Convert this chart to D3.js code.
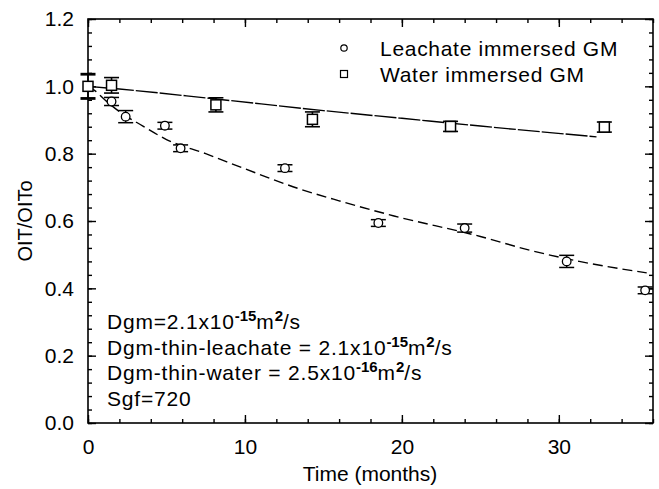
<!DOCTYPE html>
<html>
<head>
<meta charset="utf-8">
<script src="https://cdn.jsdelivr.net/npm/d3@7/dist/d3.min.js"></script>
<style>
  html, body { margin: 0; padding: 0; background: #fff; }
  svg { display: block; }
  text { font-family: "Liberation Sans", Arial, Helvetica, sans-serif; fill: #000; }
</style>
</head>
<body>
<svg id="chart" width="659" height="489"></svg>
<script>
// Measured OIT retention (OIT/OITo) versus immersion time
const leachateTime = [0, 1.5, 2.4, 4.9, 5.9, 12.55, 18.5, 24.0, 30.5, 35.5];
const leachateOIT  = [1.0, 0.955, 0.91, 0.883, 0.816, 0.757, 0.594, 0.579, 0.48, 0.394];
const leachateErr  = [0, 0.012, 0.018, 0.01, 0.01, 0.01, 0.01, 0.012, 0.018, 0.01];

const waterTime = [0, 1.5, 8.15, 14.3, 23.1, 32.9];
const waterOIT  = [1.0, 1.003, 0.945, 0.902, 0.881, 0.879];
const waterErr  = [0.036, 0.023, 0.021, 0.022, 0.015, 0.015];

// Model predictions
const leachateFitTime = [0, 0.5, 1, 2, 3.5, 5, 7.5, 10, 13.5, 16, 19.5, 25, 28, 31.3, 35.6];
const leachateFit     = [1.0, 0.985, 0.963, 0.925, 0.882, 0.842, 0.80, 0.755, 0.695, 0.66, 0.615, 0.554, 0.515, 0.48, 0.446];
const waterFitTime = [0, 2, 8, 15, 20, 25, 32.4];
const waterFit     = [1.0, 0.992, 0.963, 0.928, 0.905, 0.882, 0.85];

const xTickLabels = [0, 10, 20, 30];
const yTickLabels = [0.0, 0.2, 0.4, 0.6, 0.8, 1.0, 1.2];

const legendLabels = ["Leachate immersed GM", "Water immersed GM"];
const notes = [
  [["Dgm=2.1x10", false], ["-15", true], ["m", false], ["2", true], ["/s", false]],
  [["Dgm-thin-leachate = 2.1x10", false], ["-15", true], ["m", false], ["2", true], ["/s", false]],
  [["Dgm-thin-water = 2.5x10", false], ["-16", true], ["m", false], ["2", true], ["/s", false]],
  [["Sgf=720", false]]
];

const svg = d3.select("#chart");
const L = 88, R = 653, T = 19, B = 423;

const x = d3.scaleLinear().domain([0, 36]).range([L, R]);
const y = d3.scaleLinear().domain([0, 1.2]).range([B, T]);

const g = svg.append("g");

// Frame with inward ticks on all four sides
function tickAxis(axisGen, tx, ty) {
  const a = g.append("g").attr("transform", `translate(${tx},${ty})`).call(axisGen);
  a.select(".domain").remove();
  a.selectAll("line").attr("stroke", "#000").attr("stroke-width", 1.4);
  return a;
}
const xMinor = d3.range(0, 36.01, 2);
const yMinor = d3.range(0, 1.2001, 0.04);
const xMajor = xTickLabels;
const yMajor = yTickLabels;

tickAxis(d3.axisTop(x).tickValues(xMinor).tickSize(4).tickFormat(""), 0, B);
tickAxis(d3.axisTop(x).tickValues(xMajor).tickSize(8).tickFormat(""), 0, B);
tickAxis(d3.axisBottom(x).tickValues(xMinor).tickSize(4).tickFormat(""), 0, T);
tickAxis(d3.axisBottom(x).tickValues(xMajor).tickSize(8).tickFormat(""), 0, T);
tickAxis(d3.axisRight(y).tickValues(yMinor).tickSize(4).tickFormat(""), L, 0);
tickAxis(d3.axisRight(y).tickValues(yMajor).tickSize(8).tickFormat(""), L, 0);
tickAxis(d3.axisLeft(y).tickValues(yMinor).tickSize(4).tickFormat(""), R, 0);
tickAxis(d3.axisLeft(y).tickValues(yMajor).tickSize(8).tickFormat(""), R, 0);

g.append("rect")
  .attr("x", L).attr("y", T).attr("width", R - L).attr("height", B - T)
  .attr("fill", "none").attr("stroke", "#000").attr("stroke-width", 1.6);

// Tick labels
const xl = g.append("g").attr("transform", `translate(0,${B})`)
  .call(d3.axisBottom(x).tickValues(xTickLabels).tickSize(0).tickPadding(16).tickFormat(d3.format("d")));
xl.select(".domain").remove();
xl.selectAll("text").style("font-size", "21px").style("font-family", null);

const yl = g.append("g").attr("transform", `translate(${L},0)`)
  .call(d3.axisLeft(y).tickValues(yTickLabels).tickSize(0).tickPadding(14).tickFormat(d3.format(".1f")));
yl.select(".domain").remove();
yl.selectAll("text").style("font-size", "21px").style("font-family", null);

// Axis titles
svg.append("text")
  .attr("x", 370).attr("y", 481)
  .attr("text-anchor", "middle").style("font-size", "21px")
  .text("Time (months)");
svg.append("text")
  .attr("transform", `translate(32,${(T + B) / 2}) rotate(-90)`)
  .attr("text-anchor", "middle").style("font-size", "20px")
  .text("OIT/OITo");

// Fitted curves
const line = d3.line().x(d => x(d[0])).y(d => y(d[1])).curve(d3.curveMonotoneX);
g.append("path")
  .datum(waterFitTime.map((t, i) => [t, waterFit[i]]))
  .attr("d", line).attr("fill", "none").attr("stroke", "#000")
  .attr("stroke-width", 1.4).attr("stroke-dasharray", "22,2");
g.append("path")
  .datum(leachateFitTime.map((t, i) => [t, leachateFit[i]]))
  .attr("d", line).attr("fill", "none").attr("stroke", "#000")
  .attr("stroke-width", 1.4).attr("stroke-dasharray", "10,5");

// Error bars
function errorBars(times, vals, errs, capW, width) {
  const eb = g.append("g").attr("stroke", "#000").attr("stroke-width", width);
  times.forEach((t, i) => {
    if (!errs[i]) return;
    const cx = x(t), y1 = y(vals[i] + errs[i]), y2 = y(vals[i] - errs[i]);
    const capWidth = i === 0 ? width + 1.2 : width;
    eb.append("line").attr("x1", cx).attr("x2", cx).attr("y1", y1).attr("y2", y2);
    eb.append("line").attr("x1", cx - capW / 2).attr("x2", cx + capW / 2).attr("y1", y1).attr("y2", y1).attr("stroke-width", capWidth);
    eb.append("line").attr("x1", cx - capW / 2).attr("x2", cx + capW / 2).attr("y1", y2).attr("y2", y2).attr("stroke-width", capWidth);
  });
}
errorBars(leachateTime, leachateOIT, leachateErr, 15, 1.5);
errorBars(waterTime, waterOIT, waterErr, 15, 1.6);

// Markers
g.append("g").selectAll("circle")
  .data(leachateTime.map((t, i) => [t, leachateOIT[i]]))
  .join("circle")
  .attr("cx", d => x(d[0])).attr("cy", d => y(d[1])).attr("r", 4.3)
  .attr("fill", "#fff").attr("stroke", "#000").attr("stroke-width", 1.3);

const sq = 10;
g.append("g").selectAll("rect")
  .data(waterTime.map((t, i) => [t, waterOIT[i]]))
  .join("rect")
  .attr("x", d => x(d[0]) - sq / 2).attr("y", d => y(d[1]) - sq / 2)
  .attr("width", sq).attr("height", sq)
  .attr("fill", "#fff").attr("stroke", "#000").attr("stroke-width", 1.5);

// Legend
const leg = svg.append("g");
leg.append("circle").attr("cx", 344).attr("cy", 48).attr("r", 3.2)
  .attr("fill", "#fff").attr("stroke", "#000").attr("stroke-width", 1.2);
leg.append("rect").attr("x", 340.5).attr("y", 70.5).attr("width", 7).attr("height", 7)
  .attr("fill", "#fff").attr("stroke", "#000").attr("stroke-width", 1.2);
leg.selectAll("text").data(legendLabels).join("text")
  .attr("x", 380).attr("y", (d, i) => 56 + i * 26)
  .style("font-size", "21px").style("letter-spacing", "0.7px")
  .text(d => d);

// Model parameters
const ann = svg.append("g");
notes.forEach((parts, i) => {
  const t = ann.append("text").attr("x", 107).attr("y", 329 + i * 25.5)
    .style("font-size", "21px").style("letter-spacing", "0.8px");
  parts.forEach(([s, sup], j) => {
    const prevSup = j > 0 && parts[j - 1][1];
    const tsp = t.append("tspan").text(s)
      .attr("dy", sup && !prevSup ? -8 : (!sup && prevSup ? 8 : 0));
    if (sup) tsp.style("font-size", "15px").style("font-weight", "bold").style("letter-spacing", "0px");
  });
});
</script>
</body>
</html>
